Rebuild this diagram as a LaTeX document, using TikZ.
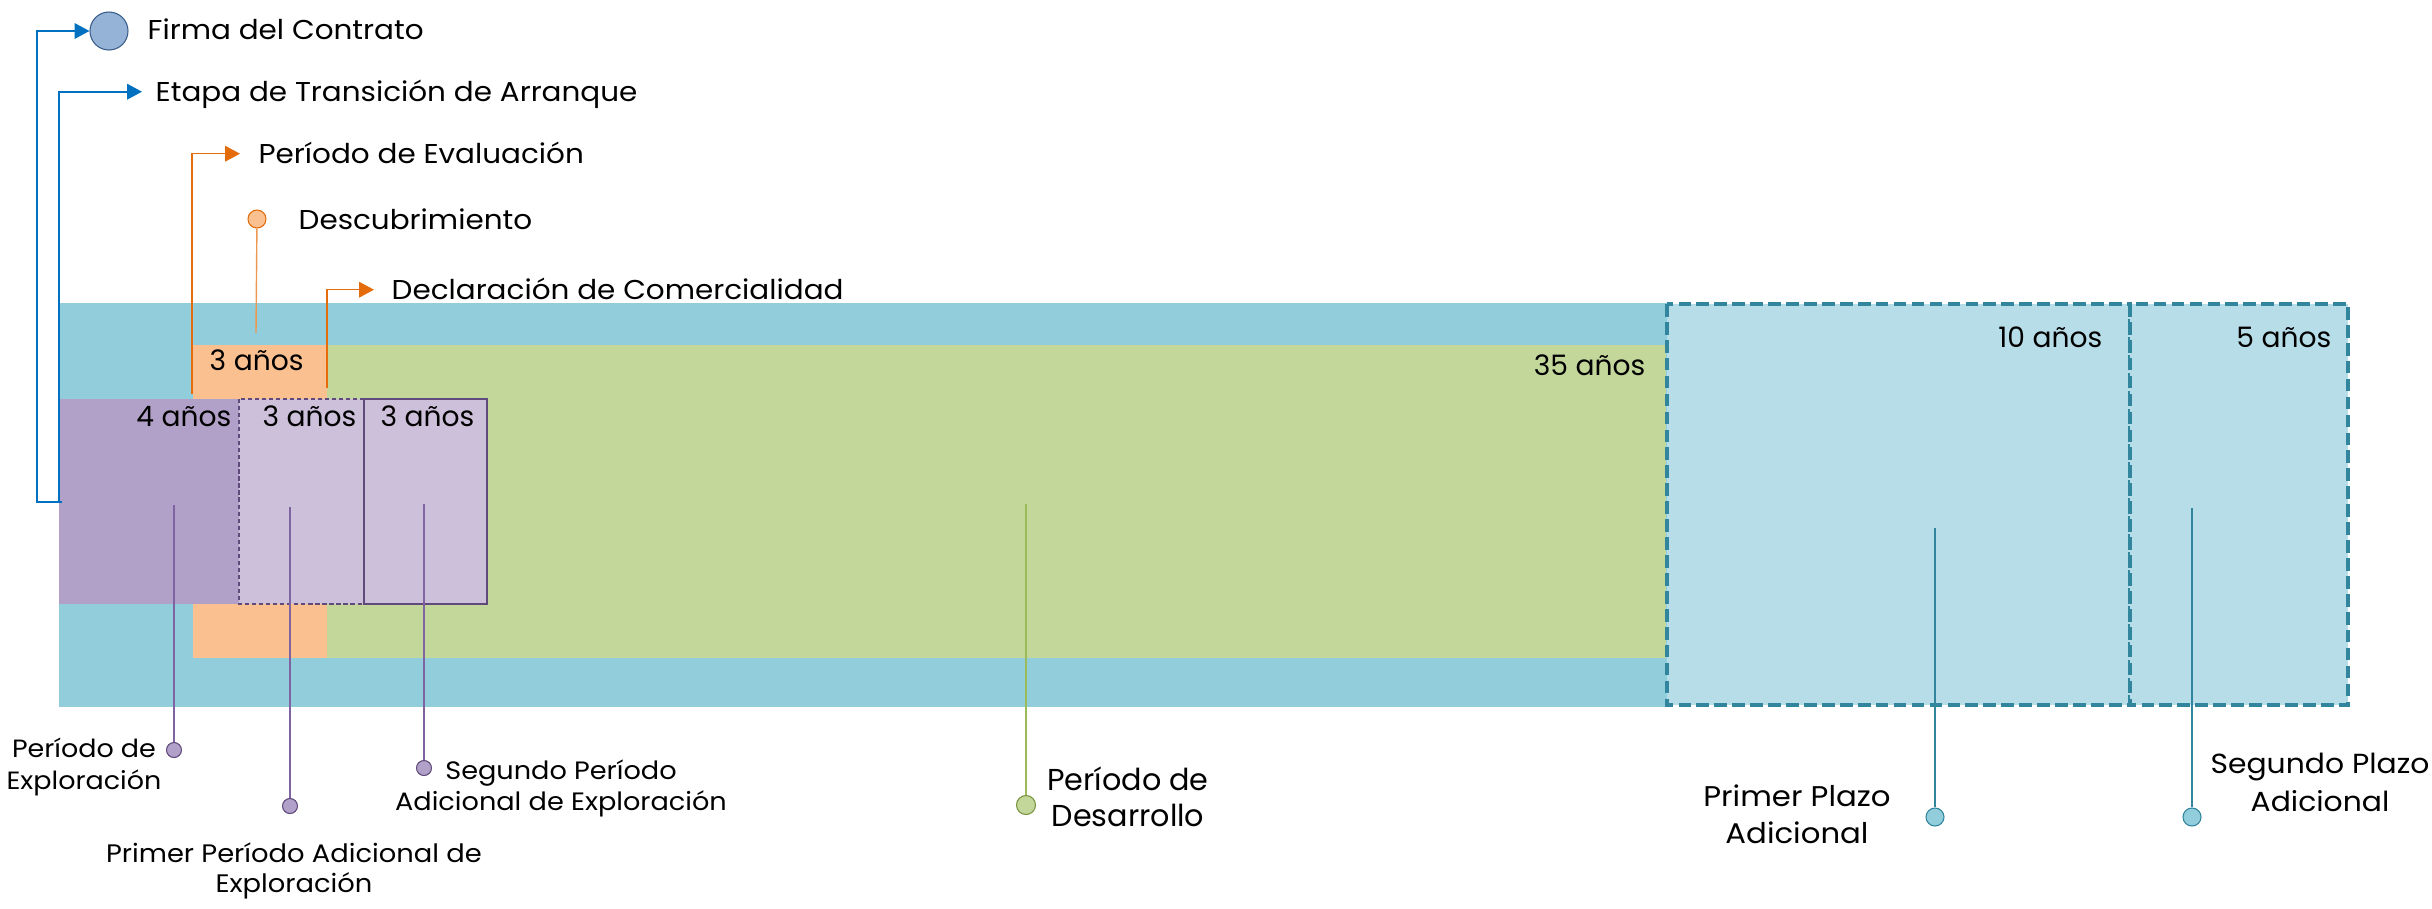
\documentclass[tikz,border=0pt]{standalone}
\usepackage{fontspec}
\setmainfont{Poppins}
\newfontfamily\ancha{Poppins}[FakeStretch=1.08]
\usetikzlibrary{arrows.meta}

\definecolor{barra}{HTML}{92CDDC}
\definecolor{naranja}{HTML}{FAC090}
\definecolor{verde}{HTML}{C4D79B}
\definecolor{moradoosc}{HTML}{B1A0C7}
\definecolor{moradocla}{HTML}{CCC0DA}
\definecolor{morado}{HTML}{604A7B}
\definecolor{moradolinea}{HTML}{8064A2}
\definecolor{plazo}{HTML}{B7DDE8}
\definecolor{plazoborde}{HTML}{31859C}
\definecolor{azul}{HTML}{0070C0}
\definecolor{naranjaosc}{HTML}{E46C0A}
\definecolor{verdeosc}{HTML}{77933C}
\definecolor{verdelinea}{HTML}{9BBB59}
\definecolor{firmacol}{HTML}{95B3D7}
\definecolor{firmaborde}{HTML}{385D8A}

\begin{document}
\begin{tikzpicture}[x=0.01cm,y=-0.01cm,
  >={Triangle[length=4.2pt,width=4.4pt]},
  evento/.style={anchor=west,inner sep=0pt,text height=0.6em,text depth=0.06em,
    font=\ancha\fontsize{7.75}{9}\selectfont},
  anios/.style={anchor=base east,inner sep=0pt,font=\fontsize{8}{9}\selectfont},
  periodo/.style={inner sep=0pt,align=center},
  punto/.style={circle,inner sep=0pt,minimum size=#1,line width=0.3pt}]

\useasboundingbox (0,0) rectangle (2432,908);

% barras
\fill[barra] (59,303) rectangle (1667,707);
\fill[naranja] (193,345) rectangle (327,658);
\fill[verde] (327,345) rectangle (1666,658);
\fill[moradoosc] (59,399) rectangle (239,604);
\draw[morado,fill=moradocla,line width=0.35pt,dash pattern=on 1.2pt off 0.8pt] (239,399) rectangle (364,604);
\draw[morado,fill=moradocla,line width=0.4pt] (364,399) rectangle (487,604);

\begin{scope}[plazoborde,line width=1pt,dash pattern=on 3.6pt off 1.5pt]
  \draw[fill=plazo] (1667,304) rectangle (2130,705);
  \draw[fill=plazo] (2130,304) rectangle (2348,705);
\end{scope}

% duraciones
\node[anios] (a4) at (232,426) {4 años};
\node[anios] (a3a) at (357,426) {3 años};
\node[anios] (a3b) at (475,426) {3 años};
\node[anios,anchor=base west] (a3e) at (209,370) {3 años};
\node[anios] (a35) at (1646,375) {35 años};
\node[anios] (a10) at (2103,347) {10 años};
\node[anios] (a5) at (2332,347) {5 años};

% hitos
\node[punto=0.38cm,fill=firmacol,draw=firmaborde] (firma-p) at (109,31) {};
\node[evento] (firma) at (147,29.7) {Firma del Contrato};
\node[evento] (etapa) at (155,91.7) {Etapa de Transición de Arranque};
\node[evento] (eval) at (258,153.7) {Período de Evaluación};
\node[punto=0.18cm,fill=naranja,draw=naranjaosc] (desc-p) at (257,219) {};
\node[evento] (desc) at (298,219.7) {Descubrimiento};
\node[evento] (decl) at (391,289.7) {Declaración de Comercialidad};

\coordinate (c1) at (62,502);
\coordinate (c2) at (59,502);
\coordinate (ev) at (192,394);
\coordinate (ds) at (256,333);
\coordinate (dc) at (327,388);

\draw[azul,line width=0.45pt,->] (c1) -- ++(-25,0) |- (firma-p);
\draw[azul,line width=0.45pt,->,shorten >=0.13cm] (c2) |- (etapa);
\draw[naranjaosc,line width=0.4pt,->,shorten >=0.18cm] (ev) |- (eval);
\draw[naranjaosc,line width=0.4pt,->,shorten >=0.17cm] (dc) |- (decl);
\draw[naranjaosc!70,line width=0.4pt] (desc-p) -- (ds);

% periodos
\node[punto=0.15cm,fill=moradoosc,draw=morado] (pexp) at (174,750) {};
\node[punto=0.15cm,fill=moradoosc,draw=morado] (ppri) at (290,806) {};
\node[punto=0.15cm,fill=moradoosc,draw=morado] (pseg) at (424,768) {};
\node[punto=0.19cm,fill=verde,draw=verdeosc] (pdes) at (1026,805) {};
\node[punto=0.18cm,fill=barra,draw=plazoborde] (ppp) at (1935,817) {};
\node[punto=0.18cm,fill=barra,draw=plazoborde] (psp) at (2192,817) {};

\coordinate (iexp) at (174,505);
\coordinate (ipri) at (290,507);
\coordinate (iseg) at (424,504);
\coordinate (ides) at (1026,504);
\coordinate (ipp) at (1935,528);
\coordinate (isp) at (2192,508);

\draw[moradolinea,line width=0.35pt] (iexp) -- (pexp);
\draw[moradolinea,line width=0.35pt] (ipri) -- (ppri);
\draw[moradolinea,line width=0.35pt] (iseg) -- (pseg);
\draw[verdelinea,line width=0.4pt] (ides) -- (pdes);
\draw[plazoborde,line width=0.3pt] (ipp) -- (ppp);
\draw[plazoborde,line width=0.3pt] (isp) -- (psp);

\node[periodo,font=\ancha\fontsize{7.1}{9.1}\selectfont] (lexp) at (84,766.5) {Período de\\Exploración};
\node[periodo,font=\ancha\fontsize{7.2}{8.6}\selectfont] (lpri) at (294,870.5) {Primer Período Adicional de\\Exploración};
\node[periodo,font=\ancha\fontsize{7.15}{8.8}\selectfont] (lseg) at (561,788.5) {Segundo Período\\Adicional de Exploración};
\node[periodo,font=\fontsize{8.6}{10.2}\selectfont] (ldes) at (1128,797) {Período de\\Desarrollo};
\node[periodo,font=\ancha\fontsize{8.1}{10.5}\selectfont] (lpp) at (1797,814.5) {Primer Plazo\\Adicional};
\node[periodo,font=\ancha\fontsize{7.85}{10.8}\selectfont] (lsp) at (2320,782) {Segundo Plazo\\Adicional};

\end{tikzpicture}
\end{document}
